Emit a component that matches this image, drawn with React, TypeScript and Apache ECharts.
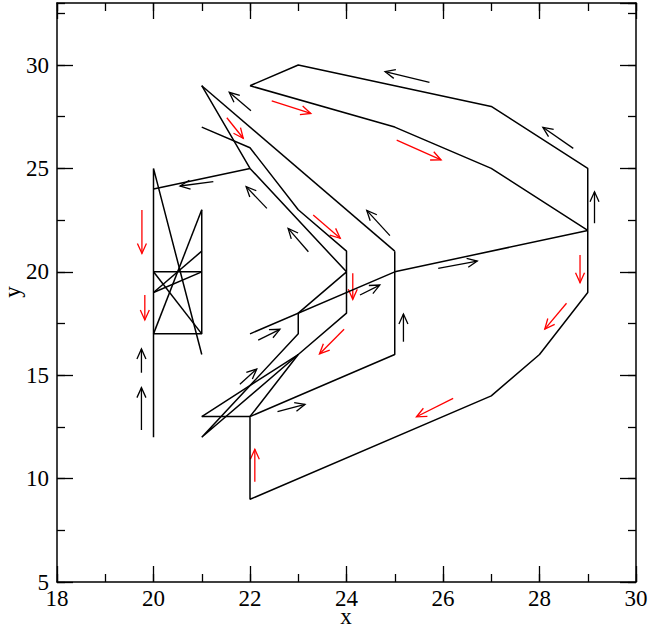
import React, { useEffect, useRef } from "react";
import * as echarts from "echarts";

// ---- axis ranges / ticks ----
const xRange = [18, 30];
const yRange = [5, 33];
const xMajor = 2;
const xMinor = 1;
const yMajor = 5;
const yMinor = 2.5;
const xTitle = "x";
const yTitle = "y";

// ---- trajectory polylines (x, y) ----
const outerLoop = [[22, 29], [23, 30], [27, 28], [29, 25], [29, 22], [27, 25], [25, 27], [22, 29]];
const lowerSweep = [[29, 22], [29, 19], [28, 16], [27, 14], [22, 9], [22, 13], [25, 16], [25, 21]];
const returnLine = [[29, 22], [25, 20], [22, 17]];
const shortStep = [[21, 13], [22, 13]];
const longDiag = [[21, 29], [25, 21]];
const steepDiag = [[21, 29], [22, 25], [24, 20]];
const innerPath = [[21, 27], [22, 26], [23, 23], [24, 21], [24, 18], [23, 16], [21, 12], [23, 17], [23, 18], [24, 20]];
const fanPath = [[21, 13], [23, 16], [22, 13]];
const leftLink = [[20, 24], [22, 25]];
const leftSpine = [[20, 12], [20, 25], [21, 16]];
const boxEdge = [[20, 17], [21, 17], [21, 23]];
const boxTop = [[20, 20], [21, 20]];
const boxCross1 = [[20, 17], [21, 23]];
const boxCross2 = [[20, 19], [21, 21]];
const boxCross3 = [[20, 19], [21, 20]];
const boxCross4 = [[20, 20], [21, 17]];

const polylines = [
  outerLoop, lowerSweep, returnLine, shortStep, longDiag, steepDiag, innerPath,
  fanPath, leftLink, leftSpine, boxEdge, boxTop, boxCross1, boxCross2, boxCross3, boxCross4,
];

// ---- direction arrows [x1, y1, x2, y2] ----
const blackArrows = [
  [19.75, 12.35, 19.75, 14.4],
  [19.75, 15.12, 19.75, 16.27],
  [21.24, 24.36, 20.55, 24.15],
  [22.02, 27.79, 21.57, 28.68],
  [22.35, 23.07, 21.92, 24.12],
  [23.21, 20.97, 22.79, 22.1],
  [24.9, 21.75, 24.42, 22.97],
  [25.72, 29.16, 24.8, 29.68],
  [28.7, 25.97, 28.07, 26.99],
  [29.14, 22.35, 29.14, 23.87],
  [25.9, 20.17, 26.71, 20.52],
  [24.28, 18.88, 24.69, 19.36],
  [22.17, 16.7, 22.62, 17.22],
  [22.57, 13.24, 23.14, 13.59],
  [21.79, 14.56, 22.14, 15.3],
  [25.18, 16.62, 25.18, 17.96],
];
const redArrows = [
  [19.76, 22.99, 19.76, 20.89],
  [19.82, 18.88, 19.82, 17.67],
  [21.52, 27.45, 21.86, 26.46],
  [22.45, 28.27, 23.26, 27.66],
  [25.04, 26.37, 25.96, 25.41],
  [23.31, 22.75, 23.87, 21.62],
  [24.13, 19.93, 24.13, 18.67],
  [23.95, 17.22, 23.44, 16.03],
  [26.21, 13.88, 25.45, 12.99],
  [28.56, 18.48, 28.11, 17.23],
  [28.84, 20.81, 28.84, 19.47],
  [22.1, 9.85, 22.1, 11.42],
];

const FONT = "'Liberation Serif', 'Times New Roman', serif";

function arrowSeries(data: number[][], color: string) {
  return {
    type: "custom",
    data,
    encode: { x: [0, 2], y: [1, 3] },
    silent: true,
    renderItem: (_params: any, api: any) => {
      const p1 = api.coord([api.value(0), api.value(1)]);
      const p2 = api.coord([api.value(2), api.value(3)]);
      const dx = p2[0] - p1[0];
      const dy = p2[1] - p1[1];
      const len = Math.hypot(dx, dy) || 1;
      const ux = dx / len;
      const uy = dy / len;
      const hl = 10;
      const hw = 4.5;
      const bx = p2[0] - ux * hl;
      const by = p2[1] - uy * hl;
      const l = [bx - uy * hw, by + ux * hw];
      const r = [bx + uy * hw, by - ux * hw];
      return {
        type: "group",
        children: [
          { type: "line", shape: { x1: p1[0], y1: p1[1], x2: p2[0], y2: p2[1] }, style: { stroke: color, lineWidth: 1.3 } },
          { type: "polyline", shape: { points: [l, p2, r] }, style: { stroke: color, fill: null, lineWidth: 1.3 } },
        ],
      };
    },
  };
}

function xAxisDef(position: string, interval: number, len: number, main: boolean, withLabel: boolean) {
  return {
    type: "value",
    position,
    min: xRange[0],
    max: xRange[1],
    interval,
    axisLine: { show: main, onZero: false, lineStyle: { color: "#000", width: 1.5 } },
    axisTick: { show: true, inside: true, length: len, lineStyle: { color: "#000", width: 1.3 } },
    axisLabel: withLabel
      ? { show: true, color: "#000", fontFamily: FONT, fontSize: 23, margin: 5 }
      : { show: false },
    splitLine: { show: false },
  };
}

function yAxisDef(position: string, interval: number, len: number, main: boolean, withLabel: boolean) {
  return {
    type: "value",
    position,
    min: yRange[0],
    max: yRange[1],
    interval,
    axisLine: { show: main, onZero: false, lineStyle: { color: "#000", width: 1.5 } },
    axisTick: { show: true, inside: true, length: len, lineStyle: { color: "#000", width: 1.3 } },
    axisLabel: withLabel
      ? { show: true, color: "#000", fontFamily: FONT, fontSize: 23, margin: 8, showMaxLabel: false }
      : { show: false },
    splitLine: { show: false },
  };
}

export default function App() {
  const ref = useRef<HTMLDivElement>(null);
  useEffect(() => {
    if (!ref.current) return;
    const chart = echarts.init(ref.current, null, { renderer: "svg" });
    const lineSeries = polylines.map((pts) => ({
      type: "line",
      data: pts,
      symbol: "none",
      silent: true,
      lineStyle: { color: "#000", width: 1.5 },
      xAxisIndex: 0,
      yAxisIndex: 0,
    }));
    chart.setOption({
      animation: false,
      backgroundColor: "#fff",
      grid: { left: 57, right: 13, top: 3, bottom: 45, containLabel: false, outerBoundsMode: "none" },
      xAxis: [
        xAxisDef("bottom", xMajor, 16, true, true),
        xAxisDef("bottom", xMinor, 8, false, false),
        xAxisDef("top", xMajor, 16, true, false),
        xAxisDef("top", xMinor, 8, false, false),
      ],
      yAxis: [
        yAxisDef("left", yMajor, 16, true, true),
        yAxisDef("left", yMinor, 8, false, false),
        yAxisDef("right", yMajor, 16, true, false),
        yAxisDef("right", yMinor, 8, false, false),
      ],
      graphic: [
        {
          type: "text",
          x: 346,
          y: 616,
          style: { text: xTitle, font: `23px ${FONT}`, fill: "#000", align: "center", verticalAlign: "middle" },
        },
        {
          type: "text",
          x: 12,
          y: 292,
          rotation: Math.PI / 2,
          style: { text: yTitle, font: `23px ${FONT}`, fill: "#000", align: "center", verticalAlign: "middle" },
        },
      ],
      series: [...lineSeries, arrowSeries(blackArrows, "#000"), arrowSeries(redArrows, "#ff0000")],
    });
    return () => chart.dispose();
  }, []);
  return <div ref={ref} style={{ position: "fixed", left: 0, top: 0, width: 649, height: 627, background: "#fff" }} />;
}
